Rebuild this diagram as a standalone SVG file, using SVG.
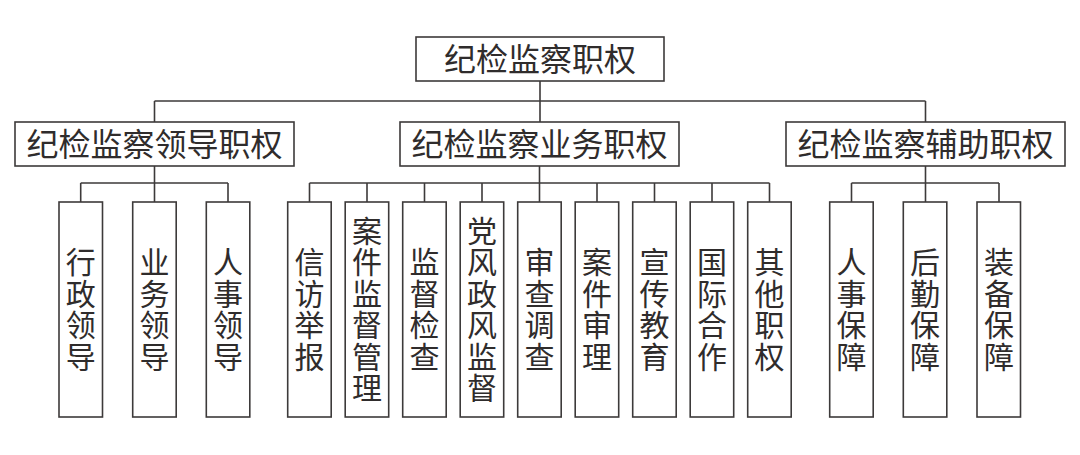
<svg xmlns="http://www.w3.org/2000/svg" width="1080" height="455" viewBox="0 0 1080 455">
<style>
.box{fill:#fff;stroke:#3d3a3a;stroke-width:1.6}
.ln{fill:none;stroke:#3d3a3a;stroke-width:1.6}
.t{font-family:"Noto Sans CJK SC","Noto Sans",sans-serif;fill:#2f2c2c;text-anchor:middle}
.h{font-size:32px}
.v{font-size:30px;writing-mode:vertical-rl;letter-spacing:1.5px}
</style>
<rect width="1080" height="455" fill="#fff"/>
<g id="connectors">
<path class="ln" d="M540,81V101M154.5,101H925.5M154.5,101V122M540,101V122M925.5,101V122"/>
<path class="ln" d="M154.5,166V183M80.7,183H228M80.7,183V202M154.5,183V202M228,183V202"/>
<path class="ln" d="M539.5,166V183M309.5,183H769.5M309.5,183V202M367,183V202M424.5,183V202M482,183V202M539.5,183V202M597,183V202M654.5,183V202M712,183V202M769.5,183V202"/>
<path class="ln" d="M925.5,166V183M851.5,183H999M851.5,183V202M925.5,183V202M999,183V202"/>
</g>
<g id="root"><rect class="box" x="416" y="37" width="248" height="44"/><text class="t h" x="540" y="71">纪检监察职权</text></g>
<g id="lead"><rect class="box" x="15" y="122" width="279" height="44"/><text class="t h" x="154.5" y="156">纪检监察领导职权</text></g>
<g id="biz"><rect class="box" x="400" y="122" width="279" height="44"/><text class="t h" x="539.5" y="156">纪检监察业务职权</text></g>
<g id="aux"><rect class="box" x="786" y="122" width="279" height="44"/><text class="t h" x="925.5" y="156">纪检监察辅助职权</text></g>

<g id="n1"><rect class="box" x="59" y="202" width="43.5" height="215"/><text class="t v" x="80.7" y="310">行政领导</text></g>
<g id="n2"><rect class="box" x="132.7" y="202" width="43.5" height="215"/><text class="t v" x="154.5" y="310">业务领导</text></g>
<g id="n3"><rect class="box" x="206.3" y="202" width="43.5" height="215"/><text class="t v" x="228" y="310">人事领导</text></g>

<g id="m1"><rect class="box" x="287.7" y="202" width="43.5" height="215"/><text class="t v" x="309.5" y="310">信访举报</text></g>
<g id="m2"><rect class="box" x="345.2" y="202" width="43.5" height="215"/><text class="t v" x="367" y="310">案件监督管理</text></g>
<g id="m3"><rect class="box" x="402.7" y="202" width="43.5" height="215"/><text class="t v" x="424.5" y="310">监督检查</text></g>
<g id="m4"><rect class="box" x="460.2" y="202" width="43.5" height="215"/><text class="t v" x="482" y="310">党风政风监督</text></g>
<g id="m5"><rect class="box" x="517.7" y="202" width="43.5" height="215"/><text class="t v" x="539.5" y="310">审查调查</text></g>
<g id="m6"><rect class="box" x="575.2" y="202" width="43.5" height="215"/><text class="t v" x="597" y="310">案件审理</text></g>
<g id="m7"><rect class="box" x="632.7" y="202" width="43.5" height="215"/><text class="t v" x="654.5" y="310">宣传教育</text></g>
<g id="m8"><rect class="box" x="690.2" y="202" width="43.5" height="215"/><text class="t v" x="712" y="310">国际合作</text></g>
<g id="m9"><rect class="box" x="747.7" y="202" width="43.5" height="215"/><text class="t v" x="769.5" y="310">其他职权</text></g>

<g id="a1"><rect class="box" x="829.7" y="202" width="43.5" height="215"/><text class="t v" x="851.5" y="310">人事保障</text></g>
<g id="a2"><rect class="box" x="903.3" y="202" width="43.5" height="215"/><text class="t v" x="925" y="310">后勤保障</text></g>
<g id="a3"><rect class="box" x="977" y="202" width="43.5" height="215"/><text class="t v" x="999" y="310">装备保障</text></g>
</svg>
